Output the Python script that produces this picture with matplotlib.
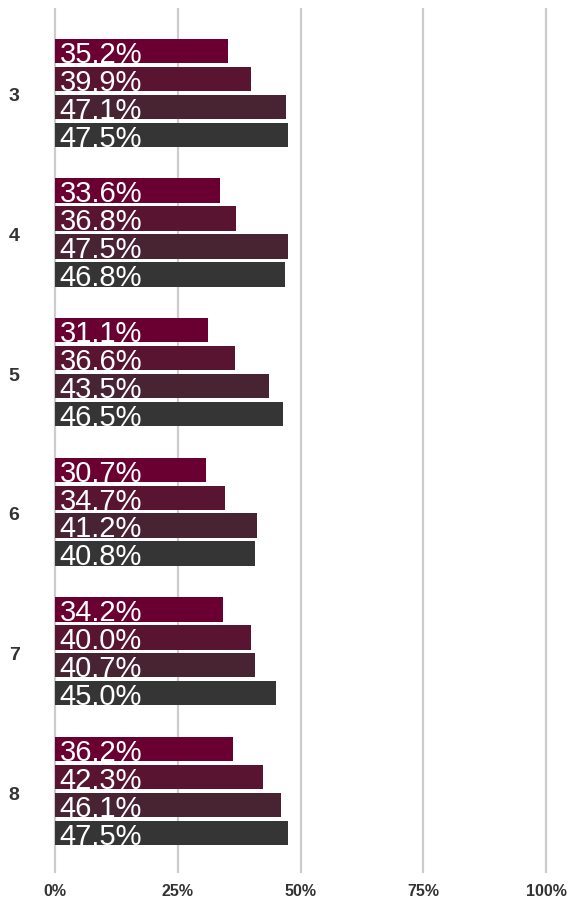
import matplotlib
matplotlib.use("Agg")
import matplotlib.pyplot as plt
import numpy as np

categories = ["3", "4", "5", "6", "7", "8"]
series1 = [35.2, 33.6, 31.1, 30.7, 34.2, 36.2]
series2 = [39.9, 36.8, 36.6, 34.7, 40.0, 42.3]
series3 = [47.1, 47.5, 43.5, 41.2, 40.7, 46.1]
series4 = [47.5, 46.8, 46.5, 40.8, 45.0, 47.5]
x_ticks = [0, 25, 50, 75, 100]
x_tick_labels = ["0%", "25%", "50%", "75%", "100%"]

colors = ["#6a0032", "#581430", "#482332", "#353535"]
series = [series1, series2, series3, series4]

plt.rcParams['font.family'] = ['Liberation Sans', 'DejaVu Sans']

fig = plt.figure(figsize=(5.71, 9.01), dpi=100)
W, H = 571, 901
x0 = 55 - 4.91
x1 = 546 + 4.91
ytop, ybot = 8, 873
ax = fig.add_axes([x0 / W, 1 - ybot / H, (x1 - x0) / W, (ybot - ytop) / H])

n = len(categories)
pos = np.arange(n)
offsets = [-0.3, -0.1, 0.1, 0.3]
bh = 0.175
for s, off, c in zip(series, offsets, colors):
    ax.barh(pos + off - 0.015, s, height=bh, color=c, zorder=2)
    for p, v in zip(pos, s):
        ax.text(0.9, p + off + 0.012, f"{v:.1f}%", color="white", fontsize=21,
                va="center", ha="left", zorder=3)

ax.set_xlim(-1, 101)
ax.set_ylim(n - 1 + 0.573, -0.623)
for t in x_ticks:
    ax.axvline(t, color="#cccccc", lw=1.6, zorder=1)
ax.set_xticks(x_ticks)
ax.set_xticklabels(x_tick_labels, fontsize=11.5, fontweight="bold", color="#333333")
ax.set_yticks(pos)
ax.set_yticklabels(categories, fontsize=14, fontweight="bold", color="#333333")
ax.tick_params(axis="both", length=0)
ax.tick_params(axis="x", pad=8)
ax.tick_params(axis="y", pad=22)
for sp in ax.spines.values():
    sp.set_visible(False)

fig.savefig("out.png", dpi=100)
